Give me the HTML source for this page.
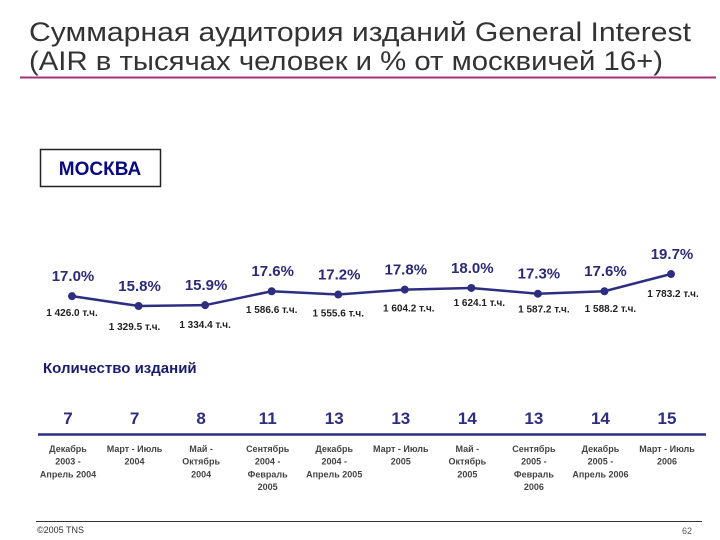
<!DOCTYPE html>
<html><head><meta charset="utf-8">
<style>
html,body{margin:0;padding:0;background:#fff;}
svg{display:block;font-family:"Liberation Sans",Arial,sans-serif;}
</style></head>
<body>
<svg id="chart" width="720" height="540" viewBox="0 0 720 540" xmlns="http://www.w3.org/2000/svg">
<text x="29" y="41" font-size="27" fill="#333" textLength="662" lengthAdjust="spacingAndGlyphs">Суммарная аудитория изданий  General Interest</text>
<text x="29" y="70" font-size="27" fill="#333" textLength="634" lengthAdjust="spacingAndGlyphs">(AIR в тысячах человек и % от москвичей 16+)</text>
<line x1="20" y1="77.5" x2="716" y2="77.5" stroke="#a0307a" stroke-width="2"/>
<rect x="40.5" y="149.5" width="120" height="37" fill="#fff" stroke="#222" stroke-width="1.5"/>
<text x="100" y="175" font-size="19" font-weight="bold" fill="#0a0a80" text-anchor="middle">МОСКВА</text>
<g id="line-chart"></g>
<text x="43" y="373" font-size="15" font-weight="bold" fill="#1a1a6e">Количество изданий</text>
<g id="counts"></g>
<line x1="38" y1="434.5" x2="706" y2="434.5" stroke="#2e2e80" stroke-width="2.5"/>
<line x1="36" y1="521.5" x2="702" y2="521.5" stroke="#333" stroke-width="1"/>
<text x="37" y="533" font-size="9" fill="#333">©2005 TNS</text>
<text x="692" y="534" font-size="9" fill="#555" text-anchor="end">62</text>
</svg>
<script>
const categories = ["Декабрь|2003 -|Апрель 2004","Март - Июль|2004","Май -|Октябрь|2004","Сентябрь|2004 -|Февраль|2005","Декабрь|2004 -|Апрель 2005","Март - Июль|2005","Май -|Октябрь|2005","Сентябрь|2005 -|Февраль|2006","Декабрь|2005 -|Апрель 2006","Март - Июль|2006"];
const sharePct = [17.0,15.8,15.9,17.6,17.2,17.8,18.0,17.3,17.6,19.7];
const audienceK = [1426.0,1329.5,1334.4,1586.6,1555.6,1604.2,1624.1,1587.2,1588.2,1783.2];
const titleCounts = [7,7,8,11,13,13,14,13,14,15];

const NS="http://www.w3.org/2000/svg";
function xPos(i){return 72 + i*(671-72)/(categories.length-1);}
function yPos(v){return 306 - (v-15.8)*8.2;}
function fmt(v){const s=v.toFixed(1);const p=s.split('.');let n=p[0];if(n.length>3)n=n.slice(0,n.length-3)+' '+n.slice(-3);return n+'.'+p[1]+' т.ч.';}
function mk(tag,attrs,parent){const e=document.createElementNS(NS,tag);for(const k in attrs)e.setAttribute(k,attrs[k]);parent.appendChild(e);return e;}

const lc=document.getElementById('line-chart');
const pts=sharePct.map((v,i)=>xPos(i)+','+yPos(v)).join(' ');
const pl=mk('polyline',{points:pts,fill:'none',stroke:'#2e2e80','stroke-width':2.5},lc);


const valDy=[16,20,19,18,18,18,14,15,17,19];
const valDx=[0,-4,0,0,0,4,8,6,6,2];
sharePct.forEach((v,i)=>{
  const x=xPos(i),y=yPos(v);
  const c=mk('circle',{cx:x,cy:y,r:4,fill:'#2e2e80'},lc);
  
  
  const t=mk('text',{x:x+1,y:y-15,'font-size':15,'font-weight':'bold',fill:'#2a2a78','text-anchor':'middle'},lc);
  t.textContent=v.toFixed(1)+'%';
  
  
});
audienceK.forEach((v,i)=>{
  const x=xPos(i)+valDx[i],y=yPos(sharePct[i])+valDy[i]+4;
  const t=mk('text',{x:x,y:y,'font-size':10,'font-weight':'bold',fill:'#222','text-anchor':'middle'},lc);
  t.textContent=fmt(v);
  
  
});
const cg=document.getElementById('counts');
titleCounts.forEach((n,i)=>{
  const x=xPos(i)-4;
  const t=mk('text',{x:x,y:424,'font-size':17,'font-weight':'bold',fill:'#2e2e80','text-anchor':'middle'},cg);
  t.textContent=n;
  
  
  categories[i].split('|').forEach((ln,j)=>{
    const p=mk('text',{x:x,y:452+j*12.7,'font-size':9,'font-weight':'bold',fill:'#444','text-anchor':'middle'},cg);
    p.textContent=ln;
    
    
  });
});
</script>
</body></html>
